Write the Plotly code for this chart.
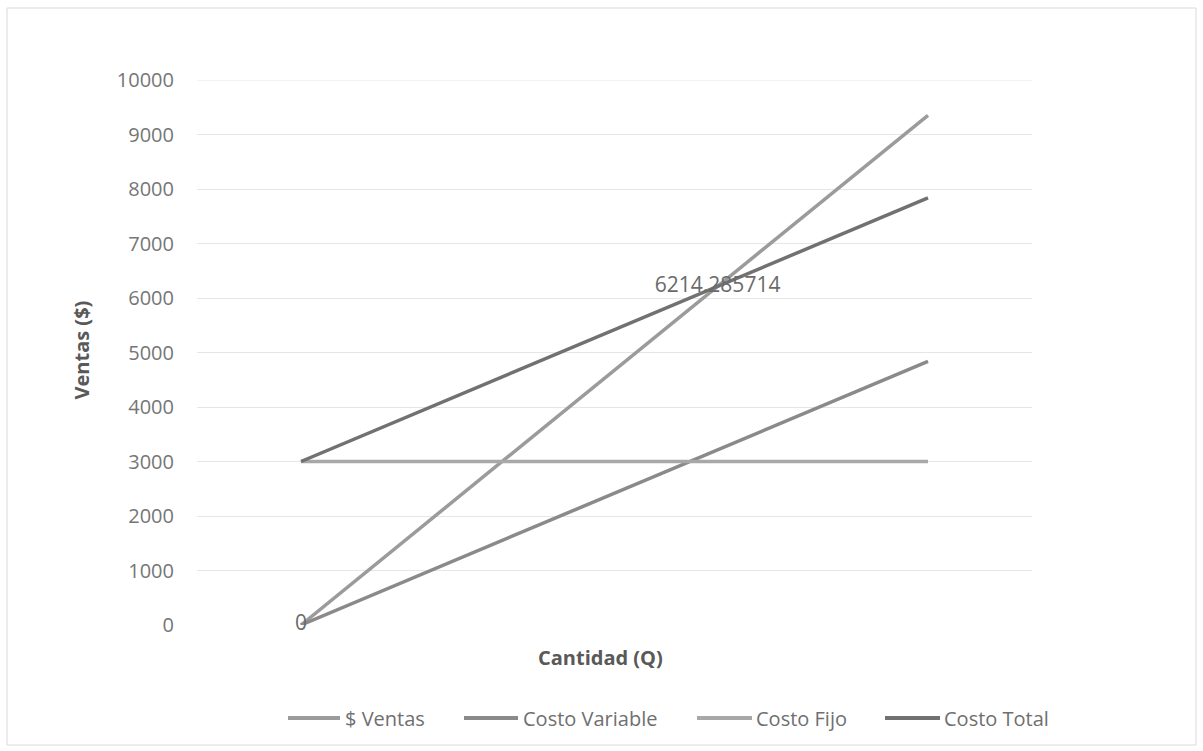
import plotly.graph_objects as go

# Break-even chart data
cantidad = [0, 645]
ventas = [0, 9352.5]
costo_variable = [0, 4837.5]
costo_fijo = [3000, 3000]
costo_total = [3000, 7837.5]

# Break-even point labels
equilibrio_q = [0, 428.571429]
equilibrio_valor = [0, 6214.285714]
equilibrio_texto = ["0", "6214.285714"]

y_ticks = list(range(0, 10001, 1000))
y_tick_text = [str(v) for v in y_ticks]

FONT = "Open Sans"
GRID = "#e6e6e6"
series = [
    ("$ Ventas", ventas, "#9b9b9b"),
    ("Costo Variable", costo_variable, "#8a8a8a"),
    ("Costo Fijo", costo_fijo, "#a8a8a8"),
    ("Costo Total", costo_total, "#717171"),
]

fig = go.Figure()
for name, vals, color in series:
    fig.add_trace(go.Scatter(
        x=cantidad, y=vals, name=name, mode="lines",
        line=dict(color=color, width=3.5), showlegend=False,
    ))

fig.add_trace(go.Scatter(
    x=equilibrio_q, y=equilibrio_valor, mode="text",
    text=equilibrio_texto, textposition="middle center",
    textfont=dict(family=FONT, size=21, color="#6a6a6a"),
    showlegend=False, hoverinfo="skip", cliponaxis=False,
))

L, R, T, B = 197, 171, 80, 126
PW, PH = 1203 - L - R, 751 - T - B

def px_x(p):
    return (p - L) / PW

def px_y(p):
    return (751 - B - p) / PH

annotations = [
    dict(text="<b>Cantidad (Q)</b>", x=px_x(600), y=px_y(673),
         xref="paper", yref="paper", showarrow=False,
         font=dict(family=FONT, size=20, color="#595959")),
    dict(text="<b>Ventas ($)</b>", x=px_x(65), y=px_y(350),
         xref="paper", yref="paper", showarrow=False, textangle=-90,
         font=dict(family=FONT, size=20, color="#595959")),
]
shapes = [
    dict(type="rect", xref="paper", yref="paper",
         x0=px_x(7), x1=px_x(1196), y0=px_y(745), y1=px_y(8),
         line=dict(color="#d9d9d9", width=1), fillcolor="rgba(0,0,0,0)",
         layer="below"),
    # top gridline at the axis maximum
    dict(type="line", xref="paper", yref="y", x0=0, x1=1,
         y0=y_ticks[-1], y1=y_ticks[-1], line=dict(color=GRID, width=1),
         layer="below"),
]

# Legend drawn as line swatches followed by labels
legend_pos = [(288, 340, 343), (464, 518, 521), (697, 752, 754), (885, 940, 942)]
LEG_Y = 718
for (name, _, color), (x0, x1, xt) in zip(series, legend_pos):
    shapes.append(dict(type="line", xref="paper", yref="paper",
                       x0=px_x(x0), x1=px_x(x1), y0=px_y(LEG_Y), y1=px_y(LEG_Y),
                       line=dict(color=color, width=4)))
    annotations.append(dict(text=name, x=px_x(xt), y=px_y(LEG_Y),
                            xref="paper", yref="paper", showarrow=False,
                            xanchor="left", yanchor="middle",
                            font=dict(family=FONT, size=20, color="#6f6f6f")))

fig.update_layout(
    width=1203, height=751,
    margin=dict(l=L, r=R, t=T, b=B),
    paper_bgcolor="white", plot_bgcolor="white",
    font=dict(family=FONT, color="#6f6f6f", size=20),
    showlegend=False,
    xaxis=dict(
        range=[-107, 752], showticklabels=False, showgrid=False,
        zeroline=False, showline=False, ticks="",
    ),
    yaxis=dict(
        range=[0, 10000], tickvals=y_ticks, ticktext=y_tick_text,
        showgrid=True, gridcolor=GRID, gridwidth=1, zeroline=False,
        showline=False, ticks="", ticklabelstandoff=22,
        tickfont=dict(family=FONT, size=20, color="#767676"),
    ),
    annotations=annotations,
    shapes=shapes,
)

fig.write_html("out.html")
